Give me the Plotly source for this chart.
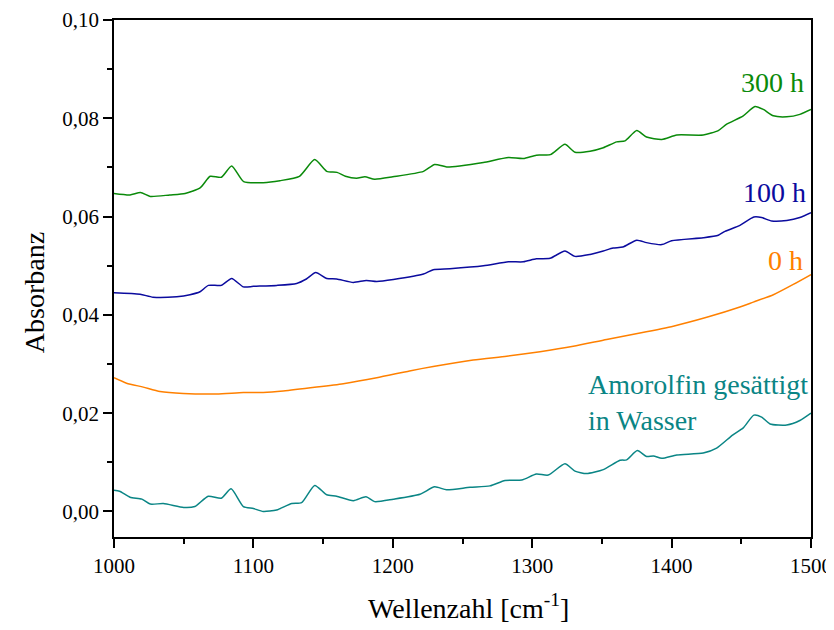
import plotly.graph_objects as go

# ---- data ----
wn_300 = [1000, 1011.5, 1019, 1026, 1040, 1051, 1062, 1069, 1077, 1084.4, 1093, 1107, 1119, 1133,
          1144, 1152.6, 1160, 1166, 1174, 1180, 1187, 1200, 1222, 1230, 1238.7, 1248, 1265, 1283,
          1293.6, 1303, 1313, 1323.5, 1330.7, 1341.5, 1351, 1360.6, 1366.6, 1375, 1382, 1393,
          1403.7, 1422.7, 1433.5, 1439.5, 1451.4, 1459.8, 1465.8, 1473, 1482.6, 1492, 1500]
abs_300 = [0.0647, 0.0644, 0.0649, 0.0641, 0.0644, 0.0647, 0.0659, 0.0682, 0.0680, 0.0703, 0.0671,
           0.0669, 0.0673, 0.0682, 0.0716, 0.0692, 0.0690, 0.0682, 0.0678, 0.0681, 0.0676, 0.0681,
           0.0692, 0.0706, 0.0701, 0.0703, 0.0710, 0.0720, 0.0718, 0.0725, 0.0726, 0.0747, 0.0731,
           0.0733, 0.0740, 0.0752, 0.0754, 0.0775, 0.0762, 0.0757, 0.0766, 0.0766, 0.0775, 0.0788,
           0.0805, 0.0824, 0.0818, 0.0805, 0.0803, 0.0808, 0.0818]

wn_100 = [1000, 1018.7, 1028, 1045, 1054.5, 1061.7, 1067.7, 1077, 1084.4, 1092.8, 1100, 1116.7,
          1131, 1138, 1144.7, 1152.6, 1159.7, 1171.7, 1181, 1188.5, 1200.4, 1222, 1229, 1241, 1265,
          1283, 1293.6, 1303, 1312.8, 1323.5, 1330.7, 1341.5, 1351, 1358, 1365, 1375, 1382, 1393,
          1400, 1422.7, 1433.5, 1438.3, 1449, 1459, 1464.6, 1471.8, 1482.6, 1492, 1500]
abs_100 = [0.0445, 0.0442, 0.0436, 0.0437, 0.0441, 0.0447, 0.0460, 0.0460, 0.0474, 0.0457, 0.0458,
           0.0460, 0.0464, 0.0473, 0.0486, 0.0474, 0.0473, 0.0466, 0.0470, 0.0468, 0.0472, 0.0483,
           0.0492, 0.0494, 0.0500, 0.0508, 0.0508, 0.0514, 0.0515, 0.0530, 0.0519, 0.0523, 0.0530,
           0.0536, 0.0538, 0.0552, 0.0547, 0.0543, 0.0551, 0.0557, 0.0562, 0.0570, 0.0582, 0.0599,
           0.0598, 0.0591, 0.0592, 0.0598, 0.0608]

wn_0 = [1000, 1009, 1021, 1033, 1049.7, 1073.7, 1092.8, 1107, 1121.4, 1145.4, 1164.5, 1188.5,
        1212, 1229, 1257.7, 1281.7, 1305.6, 1329.5, 1353.4, 1377.3, 1401.2, 1425.2, 1449, 1458.6,
        1473, 1487.3, 1500]
abs_0 = [0.0272, 0.0261, 0.0253, 0.0244, 0.0240, 0.0239, 0.0242, 0.0242, 0.0245, 0.0253, 0.0260,
         0.0272, 0.0286, 0.0295, 0.0308, 0.0316, 0.0325, 0.0336, 0.0350, 0.0363, 0.0377, 0.0395,
         0.0416, 0.0426, 0.0441, 0.0462, 0.0482]

wn_am = [1000, 1004, 1011.5, 1020, 1026, 1035.4, 1050, 1058, 1067.6, 1077, 1084, 1092.8, 1100,
         1107, 1116.7, 1127.5, 1134.6, 1144, 1152.6, 1159.7, 1171.7, 1180.8, 1187, 1200.4, 1219.5,
         1230, 1238.6, 1255.4, 1269.7, 1280.5, 1292.5, 1303, 1311.5, 1323.5, 1330.7, 1339, 1351,
         1363, 1367.8, 1375.4, 1382, 1387, 1393, 1403.7, 1422.7, 1432.3, 1444, 1451.4, 1459,
         1464.6, 1470.6, 1482.6, 1492, 1500]
abs_am = [0.0043, 0.0041, 0.0029, 0.0025, 0.0015, 0.0016, 0.0008, 0.0010, 0.0031, 0.0027, 0.0046,
          0.0010, 0.0006, 0.0000, 0.0003, 0.0016, 0.0018, 0.0053, 0.0034, 0.0031, 0.0022, 0.0030,
          0.0020, 0.0025, 0.0035, 0.0050, 0.0044, 0.0049, 0.0052, 0.0063, 0.0064, 0.0076, 0.0074,
          0.0097, 0.0082, 0.0077, 0.0085, 0.0104, 0.0105, 0.0124, 0.0112, 0.0113, 0.0108, 0.0115,
          0.0119, 0.0129, 0.0156, 0.0170, 0.0196, 0.0192, 0.0178, 0.0176, 0.0185, 0.0200]

series = [
    ("300 h", wn_300, abs_300, "#0a8a0a"),
    ("100 h", wn_100, abs_100, "#0b0b9e"),
    ("0 h", wn_0, abs_0, "#ff8000"),
    ("Amorolfin gesättigt in Wasser", wn_am, abs_am, "#0a8585"),
]

labels = [
    ("300 h", 1472.5, 0.0873, "center", "#0a8a0a"),
    ("100 h", 1474, 0.0649, "center", "#0b0b9e"),
    ("0 h", 1482, 0.0510, "center", "#ff8000"),
    ("Amorolfin gesättigt<br>in Wasser", 1338.6, 0.0222, "left", "#0a8585"),
]

FONT = "Liberation Serif"

fig = go.Figure()
for name, x, y, c in series:
    fig.add_trace(go.Scatter(x=x, y=y, mode="lines", name=name,
                             line=dict(color=c, width=1.5, shape="spline", smoothing=0.6)))

for text, x, y, anchor, c in labels:
    fig.add_annotation(x=x, y=y, text=text, showarrow=False, xanchor=anchor, yanchor="middle",
                       align="left", font=dict(family=FONT, size=28, color=c))

# axis titles placed in paper coordinates
fig.add_annotation(x=0.509, y=-0.135, xref="paper", yref="paper", showarrow=False,
                   text="Wellenzahl [cm<sup>-1</sup>]", xanchor="center", yanchor="middle",
                   font=dict(family=FONT, size=28, color="black"))
fig.add_annotation(x=-0.113, y=0.472, xref="paper", yref="paper", showarrow=False,
                   text="Absorbanz", textangle=-90, xanchor="center", yanchor="middle",
                   font=dict(family=FONT, size=28, color="black"))

axis_common = dict(showline=True, linecolor="black", linewidth=1.5, mirror=True,
                   ticks="outside", ticklen=9, tickwidth=1.5, tickcolor="black",
                   showgrid=False, zeroline=False, automargin=False,
                   tickfont=dict(family=FONT, size=21, color="black"))

# the page body adds an 8 px offset; figure is sized so the plot box lands where the reference has it
fig.update_layout(
    width=826, height=622,
    margin=dict(l=106, r=23, t=12, b=93),
    paper_bgcolor="white", plot_bgcolor="white",
    showlegend=False,
    separators=",.",
    xaxis=dict(range=[1000, 1500], dtick=100, tick0=1000,
               minor=dict(dtick=50, ticks="outside", ticklen=5, tickwidth=1.5, tickcolor="black"),
               **axis_common),
    yaxis=dict(range=[-0.0052, 0.10], dtick=0.02, tick0=0, tickformat=".2f",
               minor=dict(dtick=0.01, ticks="outside", ticklen=5, tickwidth=1.5, tickcolor="black"),
               **axis_common),
    font=dict(family=FONT),
)

fig.write_html("out.html")
